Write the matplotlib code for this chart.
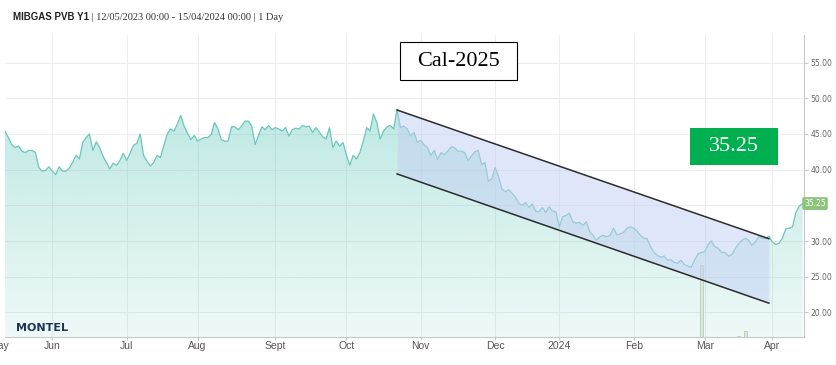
import numpy as np
import pandas as pd
import matplotlib
matplotlib.use('Agg')
import matplotlib.pyplot as plt
from matplotlib.patches import Rectangle
from matplotlib.transforms import offset_copy

# MIBGAS PVB Y1 (Cal-2025) daily settlement, EUR/MWh, one value per trading day
prices = [
    45.4, 44.5, 43.5, 43.1, 43.3, 42.6, 42.4, 42.7, 42.7, 42.4,
    40.3, 39.8, 39.9, 40.4, 39.8, 39.3, 40.4, 39.8, 39.8, 40.2,
    41.0, 42.0, 41.5, 43.8, 44.5, 45.0, 42.7, 43.9, 43.1, 41.9,
    41.0, 40.1, 40.9, 40.6, 41.3, 42.3, 41.3, 42.3, 43.4, 43.7,
    45.0,
    42.0, 41.2, 40.5, 41.0, 42.0, 41.7, 43.4, 45.0, 45.7,
    45.4, 46.4, 47.6, 46.1, 45.1, 44.2, 44.8, 44.0, 44.3, 44.5,
    44.5, 44.9, 46.6, 45.7, 44.2, 44.0, 44.0, 46.0, 46.0, 45.6,
    46.1, 46.8, 46.8, 46.1, 43.5, 44.8, 46.0, 45.6, 46.2, 45.6,
    45.9,
    45.7, 45.4, 45.9, 44.7, 45.6, 45.8, 45.7, 46.2, 46.0,
    46.1, 45.2, 45.9, 45.3, 44.6, 44.3, 45.9, 43.1, 44.0, 43.3,
    43.8, 42.1, 40.6, 42.0, 41.5, 42.4, 44.0, 45.9, 45.4, 47.8,
    46.6, 44.3, 45.4, 46.0, 46.2, 45.7, 48.5, 45.9, 46.1, 45.7,
    44.7, 45.2, 43.8, 44.1, 43.5, 43.1, 42.0, 42.7, 41.4, 42.4,
    42.1, 42.6, 43.2, 43.1, 42.6, 42.6, 42.4, 41.3, 41.9, 42.5,
    42.7, 40.7, 41.0, 38.4, 38.7, 40.3, 39.1, 37.3, 36.9, 37.2,
    36.7, 36.2, 35.3, 35.0, 35.4, 34.7, 35.2, 34.2, 34.1,
    34.7, 34.0, 34.8, 34.2, 34.1, 32.0, 33.4, 33.6, 33.9, 32.7,
    32.5, 32.6, 32.2, 32.7, 31.3, 30.8, 30.1, 30.6, 30.8, 30.6,
    30.8, 31.8, 30.9, 31.0, 31.2, 31.8, 32.0, 31.8, 31.4, 30.8,
    30.4, 30.3, 29.2, 28.4, 28.0, 27.7, 27.9, 27.3, 27.4, 27.0,
    26.9, 27.3, 26.7, 26.5, 26.3, 27.3, 28.2, 28.4, 28.5, 29.5,
    30.0, 29.2, 29.0, 28.4, 28.4, 27.9, 28.1, 28.9, 29.6, 30.1,
    30.4, 30.1, 29.4, 29.9, 30.6, 30.4, 30.3, 30.7, 29.9, 29.5,
    29.7, 30.4, 31.7, 31.8, 32.0, 34.0, 34.9, 35.25,
]
holidays = ['2023-12-25', '2023-12-26', '2024-01-01', '2024-03-29', '2024-04-01']
month_labels = ['Jun', 'Jul', 'Aug', 'Sept', 'Oct', 'Nov', 'Dec', '2024', 'Feb', 'Mar', 'Apr']

# hand-drawn downward channel
channel_dates = ['2023-10-23', '2024-03-28']
channel_upper = [48.35, 30.33]
channel_lower = [39.4, 21.3]

# volume bars, % of panel height
volume_dates = ['2024-02-29', '2024-03-15', '2024-03-19']
volumes = [23.7, 0.4, 2.1]

y_ticks = [20, 25, 30, 35, 40, 45, 50, 55]
last_price = prices[-1]

# ordinal (trading-day) x axis, like Highstock
days = pd.bdate_range('2023-05-12', '2024-04-15')
days = days[~days.isin(pd.to_datetime(holidays))]
assert len(days) == len(prices), len(days)
x = np.arange(len(days))
month_pos = pd.Series(x, index=days).groupby([days.year, days.month]).first().values[1:]
ch_x = [days.get_loc(pd.Timestamp(d)) for d in channel_dates]
vol_x = [days.get_loc(pd.Timestamp(d)) for d in volume_dates]

W, H = 837, 365
fig = plt.figure(figsize=(W / 100, H / 100), dpi=100)
ax = fig.add_axes([5 / W, 28 / H, 798.7 / W, 302 / H])
x0, x1 = 0, 236.3
y0, y1 = 16.56, 58.86

# gradient area under the price line
rgba = np.zeros((256, 1, 4))
rgba[..., :3] = matplotlib.colors.to_rgb('#6fcdc0')
rgba[:, 0, 3] = np.linspace(0.12, 0.55, 256)
im = ax.imshow(rgba, extent=[x0, x1, y0, y1], origin='lower', aspect='auto', zorder=1)
area = ax.fill_between(x, prices, y0, color='none', lw=0)
im.set_clip_path(area.get_paths()[0], transform=ax.transData)
ax.plot(x, prices, color='#6cc6bb', lw=0.9, zorder=3)

# volume bars
ax.bar(vol_x, np.array(volumes) / 100 * (y1 - y0), bottom=y0, width=0.9,
       color='#dce9dc', edgecolor='#b5cdb5', lw=0.6, zorder=3.5)

# channel
ax.fill_between(ch_x, channel_lower, channel_upper, color='#c3cff5', alpha=0.5, lw=0, zorder=4)
ax.plot(ch_x, channel_upper, color='#2b2b2b', lw=1.1, zorder=5)
ax.plot(ch_x, channel_lower, color='#2b2b2b', lw=1.1, zorder=5)

ax.set_xlim(x0, x1)
ax.set_ylim(y0, y1)

# axes styling
for s in ['left', 'top']:
    ax.spines[s].set_visible(False)
for s in ['right', 'bottom']:
    ax.spines[s].set_color('#c8c8c8')
    ax.spines[s].set_linewidth(0.8)
ax.set_axisbelow(True)
ax.set_yticks(y_ticks)
# the last-price tag sits where the 35.00 label would be
ax.set_yticklabels(['' if abs(v - last_price) < 2.5 else f'{v:.2f}' for v in y_ticks])
ax.yaxis.tick_right()
ax.tick_params(axis='y', labelsize=5.5, labelcolor='#666666', color='#c8c8c8', length=3, pad=2)
ax.set_xticks(month_pos)
ax.set_xticklabels(month_labels, family='Liberation Sans')
ax.tick_params(axis='x', labelsize=7.5, labelcolor='#555555', color='#c8c8c8', length=2.2, pad=0.8)
ax.grid(color='#ededed', lw=0.8)

# clipped "May" label at far left
ax.text(-1.8, 0, 'May', transform=offset_copy(ax.get_xaxis_transform(), fig=fig, y=-3.0, units='points'),
        ha='center', va='top', fontsize=7.5, color='#555555', clip_on=False,
        family='Liberation Sans')

# last-price tag on the axis
ax.text(1.0142, last_price, f'{last_price:.2f}', transform=ax.get_yaxis_transform(),
        ha='center', va='center', fontsize=5.5, color='white', zorder=10,
        bbox=dict(boxstyle='round,pad=0.25', fc='#8cc47c', ec='none'))

# title
t1 = fig.text(13 / W, 1 - 22 / H, 'MIBGAS PVB Y1', fontsize=7, weight='bold',
              family='Liberation Sans', color='#222222', va='bottom')
ax.annotate(' | 12/05/2023 00:00 - 15/04/2024 00:00 | 1 Day', xy=(1, 0), xycoords=t1,
            va='bottom', fontsize=7.5, family='Liberation Serif', color='#333333',
            annotation_clip=False)

# annotation boxes
fig.patches.append(Rectangle((400 / W, 1 - 80 / H), 117 / W, 38 / H, transform=fig.transFigure,
                             fc='white', ec='black', lw=0.8))
fig.text(458.5 / W, 1 - 62 / H, 'Cal-2025', ha='center', va='center', fontsize=16,
         family='Liberation Serif', color='black')
fig.patches.append(Rectangle((690 / W, 1 - 164.7 / H), 87.7 / W, 36.7 / H, transform=fig.transFigure,
                             fc='#00b050', ec='none'))
fig.text(733.8 / W, 1 - 146.5 / H, f'{last_price:.2f}', ha='center', va='center', fontsize=16,
         family='Liberation Serif', color='white')

# logo
fig.text(16 / W, 1 - 328 / H, 'MONTEL', fontsize=8, weight='bold', color='#1c3557',
         family='DejaVu Sans', va='center')

fig.savefig('out.png', dpi=100)
